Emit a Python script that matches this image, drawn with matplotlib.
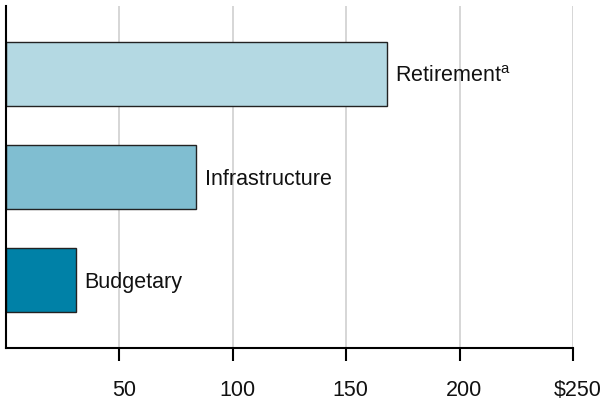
import numpy as np
import matplotlib
matplotlib.use('Agg')
import matplotlib.pyplot as plt
import matplotlib.transforms as mtransforms

# data (billions of dollars)
categories = ['Budgetary', 'Infrastructure', 'Retirement$^{\\mathrm{a}}$']
values = [31, 84, 168]
colors = ['#0081a7', '#80bed1', '#b4d9e3']
tick_vals = [50, 100, 150, 200, 250]
tick_labels = ['50', '100', '150', '200', '$250']

plt.rcParams['font.family'] = ['Liberation Sans', 'DejaVu Sans']
plt.rcParams['mathtext.fontset'] = 'custom'
plt.rcParams['mathtext.rm'] = 'Liberation Sans'

fig = plt.figure(figsize=(6.12, 4.0), dpi=100)
ax = fig.add_axes([0.0096, 0.131, 0.927, 0.854])

ypos = np.arange(len(values))
ax.barh(ypos, values, height=0.62, color=colors, edgecolor='#222222',
        linewidth=1.0, zorder=3)

for y, v, name in zip(ypos, values, categories):
  ax.annotate(name, xy=(v, y), xytext=(6, 0), textcoords='offset points',
              va='center_baseline', ha='left', fontsize=15.5, color='#111111',
              zorder=4)

ax.set_xlim(0, 250)
ax.set_ylim(-0.66, 2.66)
ax.set_xticks(tick_vals)
ax.set_xticklabels(tick_labels)
ax.set_yticks([])

ax.grid(axis='x', color='#d6d6d6', linewidth=1.4, zorder=0)
ax.tick_params(axis='x', length=9, width=1.5, pad=14.5, labelsize=15.5,
               color='black', labelcolor='#111111')

# labels in the reference sit a few pixels right of their ticks
shift = mtransforms.ScaledTranslation(4.5 / 100, 0, fig.dpi_scale_trans)
for lbl in ax.get_xticklabels():
  lbl.set_transform(lbl.get_transform() + shift)

for side in ['top', 'right']:
  ax.spines[side].set_visible(False)
for side in ['left', 'bottom']:
  ax.spines[side].set_linewidth(1.5)
  ax.spines[side].set_zorder(5)

fig.savefig('out.png', dpi=100)
